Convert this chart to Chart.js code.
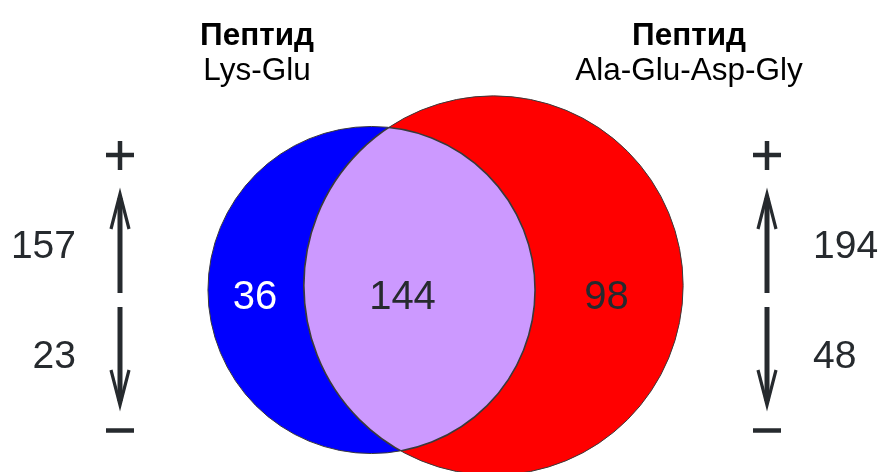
<!DOCTYPE html>
<html>
<head>
<meta charset="utf-8">
<script src="https://cdn.jsdelivr.net/npm/chart.js@4.4.1/dist/chart.umd.min.js"></script>
<style>
  html, body { margin: 0; padding: 0; background: #ffffff; }
  #wrap { width: 880px; height: 472px; position: relative; }
</style>
</head>
<body>
<div id="wrap"><canvas id="c"></canvas></div>
<script>
// ---- Data ----
const setTitles = ['Пептид', 'Пептид'];
const setNames = ['Lys-Glu', 'Ala-Glu-Asp-Gly'];
const regionCounts = [36, 144, 98];   // only Lys-Glu, both, only Ala-Glu-Asp-Gly
const upCounts = [157, 194];          // "+" per set
const downCounts = [23, 48];          // "−" per set

// ---- Layout (data units = pixels) ----
const W = 880, H = 472;
const circleCenters = [[371.5, 290], [493.5, 285.5]];
const areaScale = 12.19;              // radius = areaScale * sqrt(set size)
const setColors = ['#0000ff', '#ff0000'];
const lensColor = '#cc99ff';
const outlineColor = '#3a3a3a';
const textColor = '#262a2e';
const FONT = '"Liberation Sans", Arial, sans-serif';

const setTotals = [regionCounts[0] + regionCounts[1], regionCounts[1] + regionCounts[2]];
const radii = setTotals.map(t => areaScale * Math.sqrt(t));

const datasets = [0, 1].map(i => ({
  label: setNames[i],
  data: [{ x: circleCenters[i][0], y: circleCenters[i][1], r: radii[i] }],
  backgroundColor: setColors[i],
  borderColor: outlineColor,
  borderWidth: 1,
  order: i === 0 ? 2 : 1,
  clip: false
}));

const vennPlugin = {
  id: 'venn',
  afterDatasetsDraw(chart) {
    const ctx = chart.ctx;
    const xs = chart.scales.x, ys = chart.scales.y;
    const px = v => xs.getPixelForValue(v);
    const py = v => ys.getPixelForValue(v);
    const c = circleCenters.map(p => [px(p[0]), py(p[1])]);
    const rr = radii.map(r => Math.abs(px(r) - px(0)));

    // intersection lens
    ctx.save();
    ctx.beginPath(); ctx.arc(c[0][0], c[0][1], rr[0], 0, Math.PI * 2); ctx.clip();
    ctx.beginPath(); ctx.arc(c[1][0], c[1][1], rr[1], 0, Math.PI * 2);
    ctx.fillStyle = lensColor; ctx.fill();
    ctx.lineWidth = 1.6; ctx.strokeStyle = outlineColor; ctx.stroke();
    ctx.restore();
    ctx.save();
    ctx.beginPath(); ctx.arc(c[1][0], c[1][1], rr[1], 0, Math.PI * 2); ctx.clip();
    ctx.beginPath(); ctx.arc(c[0][0], c[0][1], rr[0], 0, Math.PI * 2);
    ctx.lineWidth = 1.6; ctx.strokeStyle = outlineColor; ctx.stroke();
    ctx.restore();

    // region counts
    const regionPos = [[255, 309], [402.5, 309], [606.5, 309]];
    const regionColors = ['#ffffff', textColor, textColor];
    ctx.save();
    ctx.font = '40px ' + FONT;
    ctx.textAlign = 'center';
    ctx.textBaseline = 'alphabetic';
    regionCounts.forEach((v, i) => {
      ctx.fillStyle = regionColors[i];
      ctx.fillText(String(v), px(regionPos[i][0]), py(regionPos[i][1]));
    });
    ctx.restore();

    // titles
    const titleX = [257, 689];
    ctx.save();
    ctx.fillStyle = '#000000';
    ctx.textAlign = 'center';
    ctx.textBaseline = 'alphabetic';
    for (let i = 0; i < 2; i++) {
      ctx.font = 'bold 31.5px ' + FONT;
      ctx.fillText(setTitles[i], px(titleX[i]), py(45));
      ctx.font = '31.5px ' + FONT;
      ctx.fillText(setNames[i], px(titleX[i]), py(80));
    }
    ctx.restore();

    // up / down arrows with counts
    const arrowX = [120, 767];
    ctx.save();
    ctx.strokeStyle = textColor;
    ctx.fillStyle = textColor;
    for (let i = 0; i < 2; i++) {
      const x = px(arrowX[i]);
      // plus
      ctx.lineWidth = 4.5; ctx.lineCap = 'butt';
      ctx.beginPath();
      ctx.moveTo(x - 14, py(155)); ctx.lineTo(x + 14, py(155));
      ctx.moveTo(x, py(141)); ctx.lineTo(x, py(170));
      ctx.stroke();
      // minus
      ctx.beginPath();
      ctx.moveTo(x - 14, py(430.5)); ctx.lineTo(x + 14, py(430.5));
      ctx.stroke();
      // up arrow
      ctx.lineWidth = 5;
      ctx.beginPath(); ctx.moveTo(x, py(293)); ctx.lineTo(x, py(198)); ctx.stroke();
      ctx.lineWidth = 3.2; ctx.lineJoin = 'miter';
      ctx.beginPath();
      ctx.moveTo(x - 9, py(229)); ctx.lineTo(x, py(194)); ctx.lineTo(x + 9, py(229));
      ctx.stroke();
      // down arrow
      ctx.lineWidth = 5;
      ctx.beginPath(); ctx.moveTo(x, py(307)); ctx.lineTo(x, py(401)); ctx.stroke();
      ctx.lineWidth = 3.2;
      ctx.beginPath();
      ctx.moveTo(x - 9, py(370)); ctx.lineTo(x, py(405)); ctx.lineTo(x + 9, py(370));
      ctx.stroke();
    }
    ctx.font = '39px ' + FONT;
    ctx.textBaseline = 'alphabetic';
    ctx.textAlign = 'right';
    ctx.fillText(String(upCounts[0]), px(76), py(258));
    ctx.fillText(String(downCounts[0]), px(76), py(368));
    ctx.textAlign = 'left';
    ctx.fillText(String(upCounts[1]), px(813), py(258));
    ctx.fillText(String(downCounts[1]), px(813), py(368));
    ctx.restore();
  }
};

new Chart(document.getElementById('c'), {
  type: 'bubble',
  data: { datasets },
  options: {
    responsive: true,
    maintainAspectRatio: false,
    devicePixelRatio: 1,
    animation: false,
    events: [],
    layout: { padding: 0, autoPadding: false },
    scales: {
      x: { type: 'linear', min: 0, max: W, display: false },
      y: { type: 'linear', min: 0, max: H, reverse: true, display: false }
    },
    plugins: { legend: { display: false }, tooltip: { enabled: false } }
  },
  plugins: [vennPlugin]
});
</script>
</body>
</html>
